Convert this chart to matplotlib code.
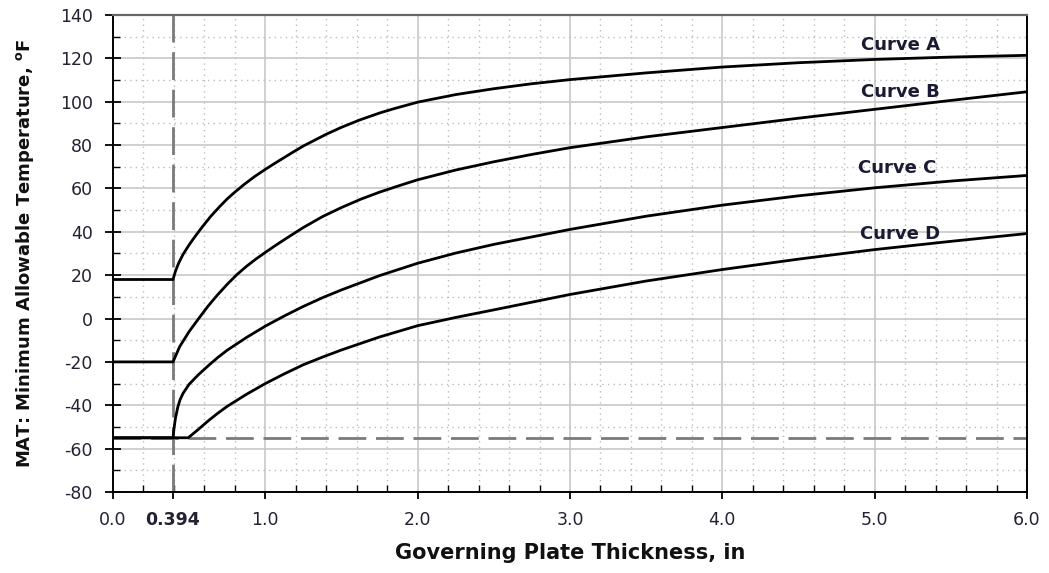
import numpy as np
import matplotlib
matplotlib.use("Agg")
import matplotlib.pyplot as plt
from matplotlib.ticker import MultipleLocator, FixedLocator

plt.rcParams['font.family'] = ['DejaVu Sans']
plt.rcParams['mathtext.fontset'] = 'custom'
plt.rcParams['mathtext.rm'] = 'DejaVu Sans:bold'
plt.rcParams['mathtext.bf'] = 'DejaVu Sans:bold'
plt.rcParams['axes.unicode_minus'] = False

# curve data (thickness in, MAT in deg F)
thk_a = [0, 0.394, 0.41, 0.43, 0.46, 0.5, 0.53, 0.58, 0.64, 0.7, 0.75, 0.8, 0.86, 0.93,
         1.0, 1.0625, 1.19, 1.25, 1.4, 1.5, 1.62, 1.75, 1.84, 2.0, 2.25, 2.5, 2.75,
         3.0, 3.5, 4.0, 4.5, 5.0, 5.5, 6.0]
mat_a = [18, 18, 21.8, 25.4, 29.6, 34, 37, 41.7, 47, 51.6, 55.2, 58.3, 61.8, 65.5,
         68.8, 71.6, 77.1, 79.6, 85, 88.2, 91.6, 94.8, 96.7, 99.8, 103.3, 106, 108.3,
         110.2, 113.3, 116, 118, 119.5, 120.6, 121.4]

thk_b = [0, 0.394, 0.4375, 0.5, 0.5625, 0.625, 0.6875, 0.75, 0.8125, 0.875, 0.9375, 1.0,
         1.0625, 1.125, 1.25, 1.375, 1.5, 1.625, 1.75, 1.875, 2.0, 2.25, 2.5, 2.75,
         3.0, 3.5, 4.0, 4.5, 5.0, 5.5, 6.0]
mat_b = [-20, -20, -13, -6, 0, 5.8, 11, 15.8, 20.2, 24, 27.4, 30.5,
         33.5, 36.4, 42, 47, 51.2, 55, 58.3, 61.2, 64, 68.5, 72.3, 75.7,
         78.8, 83.8, 88.1, 92.4, 96.5, 100.6, 104.6]

thk_c = [0, 0.394, 0.40, 0.41, 0.425, 0.44, 0.46, 0.5, 0.5625, 0.625, 0.6875, 0.75,
         0.875, 1.0, 1.125, 1.25, 1.375, 1.5, 1.75, 2.0, 2.25, 2.5, 3.0, 3.5, 4.0,
         4.5, 5.0, 5.5, 6.0]
mat_c = [-55, -55, -51, -46, -41, -37.5, -34.5, -30.3, -25.8, -21.8, -18, -14.6,
         -8.8, -3.5, 1.2, 5.6, 9.6, 13.2, 19.8, 25.5, 30.2, 34.2, 41.1, 47.2, 52.3,
         56.6, 60.3, 63.4, 66]

thk_d = [0, 0.394, 0.494, 0.5625, 0.625, 0.6875, 0.75, 0.875, 1.0, 1.125, 1.25, 1.375,
         1.5, 1.75, 2.0, 2.25, 2.5, 3.0, 3.5, 4.0, 4.5, 5.0, 5.5, 6.0]
mat_d = [-55, -55, -55, -51, -47.2, -43.7, -40.5, -35, -30, -25.5, -21.3, -17.8,
         -14.5, -8.5, -3.3, 0.5, 4, 11.1, 17.3, 22.6, 27.4, 31.8, 35.6, 39.2]

curve_names = ['Curve A', 'Curve B', 'Curve C', 'Curve D']
label_x = [5.17, 5.17, 5.15, 5.17]
label_y = [126.2, 104.3, 69.6, 39.2]

t_min = 0.394
mat_floor = -55

fig = plt.figure(figsize=(10.49, 5.73), dpi=100)
ax = fig.add_axes([0.1077, 0.1414, 0.8713, 0.8324])

ax.set_xlim(0, 6)
ax.set_ylim(-80, 140)

# grid
ax.xaxis.set_minor_locator(MultipleLocator(0.2))
ax.yaxis.set_major_locator(MultipleLocator(20))
ax.yaxis.set_minor_locator(MultipleLocator(10))
ax.grid(which='major', color='#c8c8c8', lw=1.2, ls='-')
ax.grid(which='minor', color='#bcbcbc', lw=1.0, ls=(0, (1, 3)))
ax.set_axisbelow(True)

# reference lines
ax.axvline(t_min, color='#7a7a7a', lw=2, ls=(0, (10, 3.5)), zorder=2)
ax.axhline(mat_floor, color='#7a7a7a', lw=2, ls=(0, (10, 3.5)), zorder=2)

for thk, mat in [(thk_a, mat_a), (thk_b, mat_b), (thk_c, mat_c), (thk_d, mat_d)]:
    ax.plot(thk, mat, color='black', lw=2.0, zorder=3, solid_joinstyle='round')

for name, lx, ly in zip(curve_names, label_x, label_y):
    ax.text(lx, ly, name, ha='center', va='center', fontsize=13,
            fontweight='bold', color='#1a1a33')

# ticks
xt = [0, t_min, 1, 2, 3, 4, 5, 6]
ax.xaxis.set_major_locator(FixedLocator(xt))
ax.set_xticklabels(['0.0', '0.394', '1.0', '2.0', '3.0', '4.0', '5.0', '6.0'])
ax.get_xticklabels()[1].set_fontweight('bold')
ax.tick_params(which='major', labelsize=12.5, colors='black', labelcolor='#222233')
ax.tick_params(axis='y', which='major', direction='inout', length=11, width=1.3, pad=9)
ax.tick_params(axis='x', which='major', direction='out', length=5, width=1.3, pad=9)
ax.tick_params(which='minor', direction='in', length=5, width=1.0)
for gl, v in zip(ax.xaxis.get_gridlines(), xt):
    if v == t_min:
        gl.set_visible(False)

for s in ['left', 'bottom', 'right']:
    ax.spines[s].set_color('black')
    ax.spines[s].set_linewidth(1.4)
ax.spines['top'].set_color('#666666')
ax.spines['top'].set_linewidth(1.6)

ax.set_xlabel('Governing Plate Thickness, in', fontsize=15, fontweight='bold',
              labelpad=10, color='#111111')
ax.set_ylabel(r'MAT: Minimum Allowable Temperature, $^{\mathbf{o}}\mathbf{F}$',
              fontsize=13, fontweight='bold', labelpad=17, color='#111111')

fig.savefig('out.png', dpi=100)
